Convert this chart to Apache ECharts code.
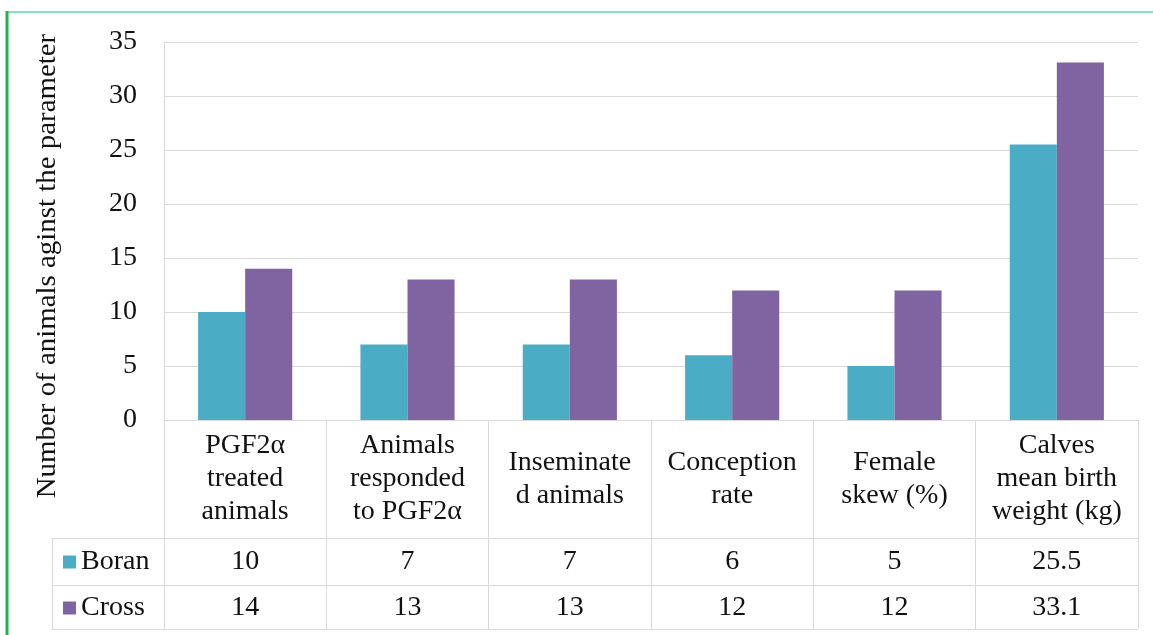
<!DOCTYPE html>
<html>
<head>
<meta charset="utf-8">
<script src="https://cdn.jsdelivr.net/npm/echarts@6/dist/echarts.min.js"></script>
<style>
  html, body { margin: 0; padding: 0; background: #fff; }
  #main { width: 1153px; height: 635px; }
</style>
</head>
<body>
<div id="main"></div>
<script>
var myChart = echarts.init(document.getElementById('main'));

// categories and values
var categories = ['PGF2α\ntreated\nanimals', 'Animals\nresponded\nto PGF2α', 'Inseminate\nd animals',
                  'Conception\nrate', 'Female\nskew (%)', 'Calves\nmean birth\nweight (kg)'];
var boran = [10, 7, 7, 6, 5, 25.5];
var cross = [14, 13, 13, 12, 12, 33.1];
var yTicks = { min: 0, max: 35, interval: 5 };

var colors = ['#4bacc6', '#8064a2'];
var lineColor = '#d9d9d9';
var serif = 'Liberation Serif';

// table geometry (pixels)
var gLeft = 164, gRight = 1138, gTop = 42, gBottom = 420;
var rowTop = 538, rowMid = 585, rowEnd = 629, tableLeft = 52;

option = {
    animation: false,
    backgroundColor: '#fff',
    textStyle: { fontFamily: serif, color: '#111' },
    legend: {
        data: ['Boran', 'Cross'],
        orient: 'vertical',
        left: 63,
        top: 548,
        padding: 0,
        itemWidth: 13,
        itemHeight: 13,
        itemGap: 18,
        icon: 'rect',
        textStyle: { fontFamily: serif, fontSize: 28, lineHeight: 28, color: '#111' }
    },
    grid: {
        left: gLeft,
        right: 1153 - gRight,
        top: gTop,
        bottom: 635 - gBottom
    },
    xAxis: [
        {
            type: 'category',
            data: categories,
            axisLine: { show: true, lineStyle: { color: lineColor, width: 1 } },
            axisTick: { show: true, length: rowTop - gBottom, lineStyle: { color: lineColor } },
            axisLabel: {
                interval: 0,
                margin: 59,
                verticalAlign: 'middle',
                fontFamily: serif,
                fontSize: 28,
                lineHeight: 33,
                color: '#111'
            },
            splitLine: { show: false }
        },
        // Boran row of the data table
        {
            type: 'category',
            position: 'bottom',
            offset: rowTop - gBottom,
            data: boran.map(String),
            axisLine: { show: false },
            axisTick: { show: true, length: rowMid - rowTop, lineStyle: { color: lineColor } },
            axisLabel: { interval: 0, margin: 24, verticalAlign: 'middle', fontFamily: serif, fontSize: 28, color: '#111' },
            splitLine: { show: false }
        },
        // Cross row of the data table
        {
            type: 'category',
            position: 'bottom',
            offset: rowMid - gBottom,
            data: cross.map(String),
            axisLine: { show: false },
            axisTick: { show: true, length: rowEnd - rowMid, lineStyle: { color: lineColor } },
            axisLabel: { interval: 0, margin: 23, verticalAlign: 'middle', fontFamily: serif, fontSize: 28, color: '#111' },
            splitLine: { show: false }
        }
    ],
    yAxis: {
        type: 'value',
        min: yTicks.min,
        max: yTicks.max,
        interval: yTicks.interval,
        axisLine: { show: true, lineStyle: { color: lineColor } },
        axisTick: { show: false },
        axisLabel: { margin: 27, fontFamily: serif, fontSize: 28, color: '#111' },
        splitLine: { show: true, lineStyle: { color: lineColor, width: 1 } }
    },
    series: [
        {
            name: 'Boran',
            type: 'bar',
            data: boran,
            barGap: '0%',
            barCategoryGap: '42%',
            itemStyle: { color: colors[0] }
        },
        {
            name: 'Cross',
            type: 'bar',
            data: cross,
            itemStyle: { color: colors[1] }
        }
    ],
    graphic: [
        // green frame
        { type: 'line', shape: { x1: 7, y1: 12, x2: 1153, y2: 12 }, style: { stroke: '#8ee0c4', lineWidth: 2 } },
        { type: 'line', shape: { x1: 7, y1: 11, x2: 7, y2: 635 }, style: { stroke: '#22b24c', lineWidth: 3 } },
        // table lines
        { type: 'line', shape: { x1: tableLeft, y1: rowTop + 0.5, x2: gRight, y2: rowTop + 0.5 }, style: { stroke: lineColor, lineWidth: 1 } },
        { type: 'line', shape: { x1: tableLeft, y1: rowMid + 0.5, x2: gRight, y2: rowMid + 0.5 }, style: { stroke: lineColor, lineWidth: 1 } },
        { type: 'line', shape: { x1: tableLeft, y1: rowEnd + 0.5, x2: gRight, y2: rowEnd + 0.5 }, style: { stroke: lineColor, lineWidth: 1 } },
        { type: 'line', shape: { x1: tableLeft + 0.5, y1: rowTop, x2: tableLeft + 0.5, y2: rowEnd }, style: { stroke: lineColor, lineWidth: 1 } },
        // y axis title
        {
            type: 'text',
            x: 48,
            y: 266,
            rotation: Math.PI / 2,
            scaleX: 1.07,
            style: {
                text: 'Number of animals aginst the parameter',
                font: '27px Liberation Serif',
                fill: '#111',
                align: 'center',
                verticalAlign: 'middle'
            }
        }
    ]
};

myChart.setOption(option);

window.onresize = function () {
    myChart.resize();
};
</script>
</body>
</html>
